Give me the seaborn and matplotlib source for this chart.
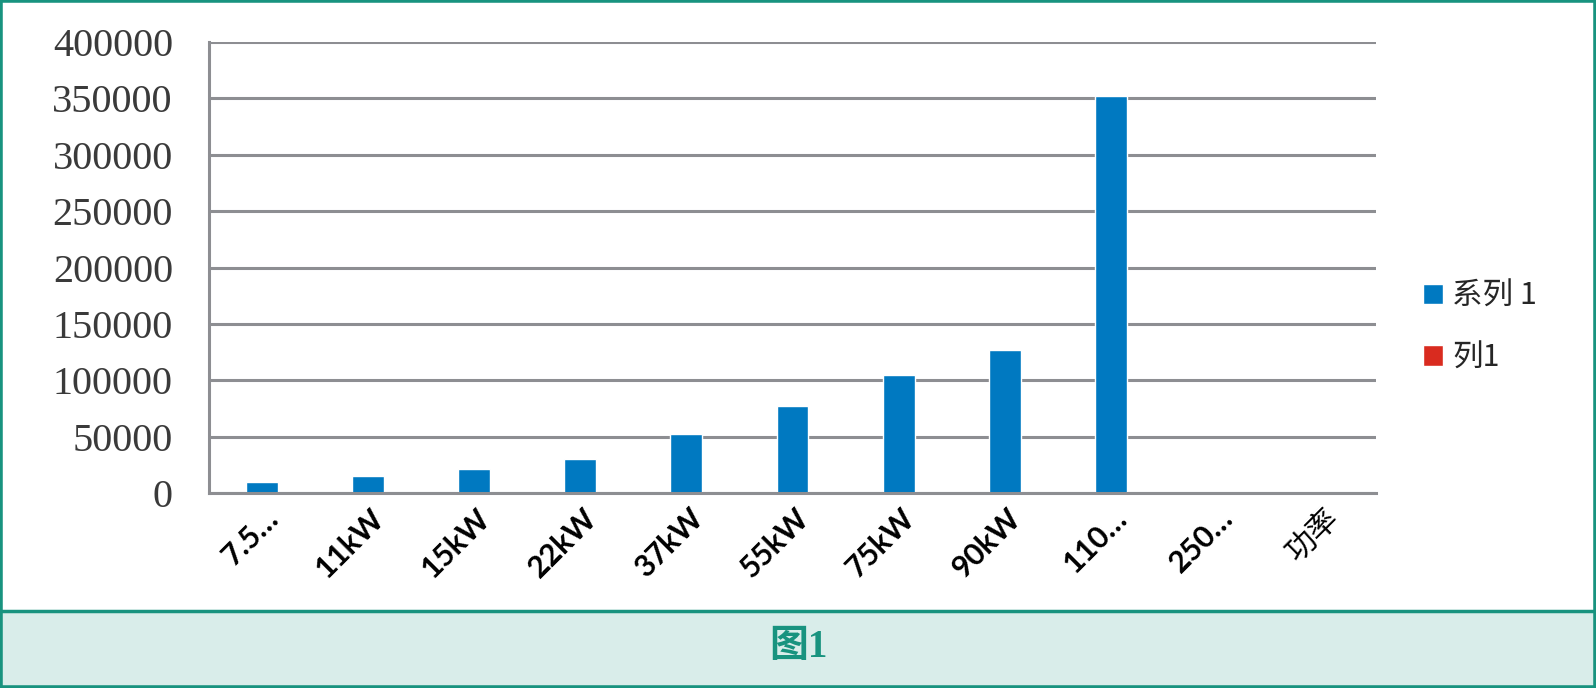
import numpy as np
import matplotlib
matplotlib.use("Agg")
import matplotlib.pyplot as plt
import matplotlib.transforms as mtransforms
from matplotlib.patches import Patch, Rectangle
from matplotlib.lines import Line2D
import seaborn as sns

# данные
categories = ["7.5…", "11kW", "15kW", "22kW", "37kW", "55kW", "75kW", "90kW", "110…", "250…", "功率"]
series1 = [10000, 15000, 21000, 30000, 52000, 77000, 105000, 127000, 352000, 0, 0]
series_names = ["系列 1", "列1"]
y_ticks = [0, 50000, 100000, 150000, 200000, 250000, 300000, 350000, 400000]

BLUE = "#0079C1"
RED = "#D92B1F"
GRID = "#8D8E92"
TEAL = "#18937F"

sns.set_style("white")
plt.rcParams["font.family"] = ["Lato", "Noto Sans CJK SC", "DejaVu Sans"]

fig = plt.figure(figsize=(15.96, 6.88), dpi=100)
W, H = 1596, 688
ax = fig.add_axes([209 / W, 1 - 493 / H, (1376 - 209) / W, (493 - 42) / H])

sns.barplot(x=categories, y=series1, color=BLUE, width=0.3, saturation=1, ax=ax)

ax.set_xlim(-0.5, len(categories) - 0.5)
ax.set_ylim(0, 400000)
ax.set_yticks(y_ticks, [str(v) for v in y_ticks])
ax.yaxis.grid(True, color=GRID, linewidth=2.2)
ax.set_axisbelow(True)
for s in ["top", "right"]:
    ax.spines[s].set_visible(False)
for s in ["left", "bottom"]:
    ax.spines[s].set_color(GRID)
    ax.spines[s].set_linewidth(2.2)

ax.tick_params(axis="y", length=10, width=2.2, color=GRID, pad=16,
               labelsize=29, labelcolor="#3a3a3a")
for lab in ax.get_yticklabels():
    lab.set_fontfamily("Liberation Serif")

# деления между категориями
ax.set_xticks(np.arange(-0.5, len(categories), 1), minor=True)
ax.tick_params(axis="x", which="minor", length=8, width=2.2, color=GRID, direction="out")
ax.tick_params(axis="x", which="major", length=0, pad=15, labelsize=22, labelcolor="black")
ax.set_xticks(range(len(categories)), categories)
offset = mtransforms.ScaledTranslation(0.12, 0, fig.dpi_scale_trans)
for lab in ax.get_xticklabels():
    lab.set_rotation(45)
    lab.set_ha("right")
    lab.set_va("center")
    lab.set_rotation_mode("anchor")
    lab.set_fontweight("bold")
    lab.set_transform(lab.get_transform() + offset)
    if lab.get_text() == "功率":
        lab.set_fontfamily(["Noto Sans CJK SC"])
        lab.set_fontweight("normal")

ax.set_xlabel("")
ax.set_ylabel("")

handles = [Patch(facecolor=BLUE), Patch(facecolor=RED)]
ax.legend(handles, series_names, loc="center left", bbox_to_anchor=(1408 / W, 1 - 327 / H),
          bbox_transform=fig.transFigure, frameon=False, borderpad=0,
          handlelength=0.65, handleheight=0.65, handletextpad=0.3, labelspacing=1.0,
          prop={"family": ["Noto Sans CJK SC"], "size": 22, "weight": "medium"})

# подпись снизу
band = 1 - 611 / H
fig.add_artist(Rectangle((0, 0), 1, band, transform=fig.transFigure,
                         facecolor="#D9EDEA", edgecolor="none", zorder=0))
fig.add_artist(Line2D([0, 1], [band, band], transform=fig.transFigure, color=TEAL, lw=2.5))
fig.add_artist(Rectangle((0, 0), 1, 1, transform=fig.transFigure, fill=False,
                         edgecolor=TEAL, lw=4))
fig.text(0.5, 1 - 648 / H, "图1", ha="center", va="center", color=TEAL, fontsize=28,
         fontweight="bold", family=["Liberation Serif", "Noto Sans CJK SC"])

fig.savefig("out.png", dpi=100)
